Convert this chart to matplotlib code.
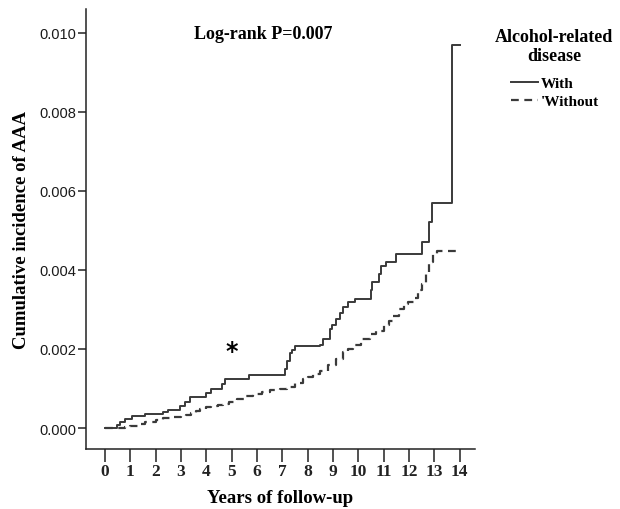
import matplotlib
matplotlib.use('Agg')
import matplotlib.pyplot as plt

# Kaplan-Meier style cumulative incidence
with_t = [0, 0.47, 0.6, 0.8, 1.05, 1.58, 2.29, 2.5, 2.96, 3.15, 3.35, 4.0, 4.2, 4.6, 4.73,
          5.7, 7.1, 7.2, 7.3, 7.37, 7.5, 8.48, 8.6, 8.87, 8.95, 9.1, 9.27, 9.4, 9.58, 9.86,
          10.5, 10.55, 10.8, 10.9, 11.1, 11.5, 12.5, 12.8, 12.9, 13.7, 14.0]
with_s = [0, 0.00007, 0.00015, 0.00022, 0.0003, 0.00035, 0.0004, 0.00045, 0.00056, 0.00065,
          0.00078, 0.00088, 0.00099, 0.00112, 0.00125, 0.00133, 0.0015, 0.0017, 0.0019,
          0.00198, 0.00207, 0.0021, 0.00225, 0.0025, 0.0026, 0.00276, 0.0029, 0.00305,
          0.00318, 0.00327, 0.0035, 0.0037, 0.0039, 0.0041, 0.0042, 0.0044, 0.0047, 0.0052,
          0.0057, 0.0097, 0.0097]

without_t = [0, 0.5, 0.8, 1.0, 1.3, 1.58, 2.0, 2.29, 2.7, 3.0, 3.2, 3.4, 3.6, 3.75, 4.0,
             4.2, 4.45, 4.65, 4.9, 5.2, 5.5, 5.85, 6.2, 6.5, 6.9, 7.2, 7.5, 7.8, 8.0, 8.2,
             8.5, 8.8, 9.1, 9.4, 9.6, 9.8, 10.1, 10.45, 10.7, 11.0, 11.2, 11.36, 11.6, 11.8,
             11.95, 12.2, 12.35, 12.5, 12.65, 12.8, 12.95, 13.1, 14.0]
without_s = [0, 0, 0.00003, 0.00005, 0.0001, 0.00015, 0.0002, 0.00025, 0.00028, 0.0003,
             0.00034, 0.00038, 0.00043, 0.00048, 0.00052, 0.00055, 0.00058, 0.0006, 0.00066,
             0.00073, 0.0008, 0.00086, 0.0009, 0.00095, 0.00099, 0.00104, 0.00114, 0.00124,
             0.0013, 0.00137, 0.00144, 0.0016, 0.00175, 0.00192, 0.002, 0.0021, 0.00225,
             0.00238, 0.00245, 0.0026, 0.00272, 0.00284, 0.003, 0.00315, 0.00319, 0.0033,
             0.0035, 0.00365, 0.0039, 0.0042, 0.0044, 0.00448, 0.00448]

x_ticks = list(range(0, 15))
y_ticks = [0.0, 0.002, 0.004, 0.006, 0.008, 0.010]

serif = 'Liberation Serif'
line_col = '#3a3a3a'

fig = plt.figure(figsize=(6.2, 5.1), dpi=100)
ax = fig.add_axes([86/620, 60/510, (475-86)/620, (500-60)/510])

ax.plot(with_t, with_s, drawstyle='steps-post', color=line_col, lw=1.4, label='With')
ax.plot(without_t, without_s, drawstyle='steps-post', color=line_col, lw=1.6,
        linestyle=(0, (3.5, 2.5)), label="'Without")

ax.set_xlim(-0.75, 14.6)
ax.set_ylim(-0.00053, 0.0106)
ax.spines['top'].set_visible(False)
ax.spines['right'].set_visible(False)
for s in ('left', 'bottom'):
    ax.spines[s].set_color('#222222')
    ax.spines[s].set_linewidth(1.1)

ax.set_xticks(x_ticks)
ax.set_xticklabels([str(v) for v in x_ticks], fontfamily=serif, fontweight='bold',
                   fontsize=12.5, color='#222222')
ax.set_yticks(y_ticks)
ax.set_yticklabels(['%.3f' % v for v in y_ticks], fontfamily='Liberation Sans',
                   fontsize=10.5, color='#1a1a1a')
ax.tick_params(axis='x', length=9, width=1.1, color='#222222', pad=1)
ax.tick_params(axis='y', length=6, width=1.1, color='#222222', pad=1)

ax.set_xlabel('Years of follow-up', fontfamily=serif, fontweight='bold', fontsize=13.5,
              labelpad=7)
ax.set_ylabel('Cumulative incidence of AAA', fontfamily=serif, fontweight='bold',
              fontsize=13.5, labelpad=7)

ax.text(6.23, 0.00998, 'Log-rank P=0.007', ha='center', va='center', fontfamily=serif,
        fontweight='bold', fontsize=13)
ax.text(5.0, 0.00196, '*', ha='center', va='center', fontfamily='DejaVu Sans',
        fontweight='bold', fontsize=17)

# legend
fig.text(554/620, 1 - 47/510, 'Alcohol-related\ndisease', ha='center', va='center',
         fontfamily=serif, fontweight='bold', fontsize=13, linespacing=1.15)
leg = fig.legend(loc='upper center', bbox_to_anchor=(555/620, 1 - 70/510), frameon=False,
                 prop={'family': serif, 'weight': 'bold', 'size': 11}, handlelength=1.8,
                 handletextpad=0.2, labelspacing=0.25, borderpad=0)

fig.savefig('out.png', dpi=100)
